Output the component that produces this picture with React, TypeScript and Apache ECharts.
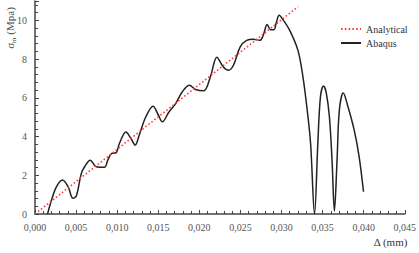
import React, { useEffect, useRef } from "react";
import * as echarts from "echarts";

const analyticalX = [0, 0.032];
const analyticalY = [0, 10.7];

const abaqusX = [
  0.00153, 0.00201, 0.00262, 0.00334, 0.00402, 0.00463, 0.00503, 0.00564, 0.00604, 0.00672,
  0.00745, 0.00845, 0.00886, 0.00934, 0.00986, 0.01027, 0.01107, 0.01168, 0.01220, 0.01268,
  0.01349, 0.01437, 0.01502, 0.01550, 0.01630, 0.01711, 0.01791, 0.01880, 0.01953, 0.02053,
  0.02134, 0.02214, 0.02290, 0.02355, 0.02415, 0.02496, 0.02576, 0.02657, 0.02738, 0.02778,
  0.02826, 0.02866, 0.02907, 0.02939, 0.02971, 0.03019, 0.03100, 0.03200, 0.03261, 0.03313,
  0.03354, 0.03402, 0.03442, 0.03474, 0.03511, 0.03543, 0.03583, 0.03615, 0.03644, 0.03676,
  0.03704, 0.03752, 0.03804, 0.03885, 0.03945, 0.03998,
];
const abaqusY = [
  0, 0.72, 1.41, 1.75, 1.41, 0.81, 0.93, 2.1, 2.44, 2.78,
  2.44, 2.41, 2.78, 3.13, 3.16, 3.64, 4.24, 3.9, 3.56, 4.07,
  5.02, 5.57, 5.1, 4.76, 5.27, 5.7, 6.3, 6.65, 6.43, 6.36,
  7.08, 8.1, 7.6, 7.42, 7.68, 8.62, 8.97, 9.02, 8.97, 9.23,
  9.79, 9.52, 9.52, 9.91, 10.26, 10.03, 9.48, 8.45, 7.08, 5.36,
  3.64, 0.0, 3.64, 6.05, 6.61, 6.3, 5.02, 2.78, 0.15, 2.78,
  5.36, 6.25, 5.62, 4.33, 2.95, 1.15,
];

const xTicks = { min: 0, max: 0.045, interval: 0.005 };
const yTicks = { min: 0, max: 11, interval: 2 };

const FONT = "Liberation Serif";

export default function App() {
  const ref = useRef<HTMLDivElement>(null);
  useEffect(() => {
    if (!ref.current) return;
    const chart = echarts.init(ref.current, null, { renderer: "svg" });
    const axisCommon = {
      axisLine: { show: true, onZero: false, lineStyle: { color: "#444", width: 1.5 } },
      axisTick: { show: true, inside: true, length: 4, lineStyle: { color: "#444", width: 1 } },
      minorTick: { show: true, splitNumber: 5, length: 3, lineStyle: { color: "#444", width: 1 } },
      splitLine: { show: false },
      minorSplitLine: { show: false },
    };
    chart.setOption({
      animation: false,
      grid: { left: 35, right: 12, top: 1, bottom: 39 },
      legend: {
        orient: "vertical",
        left: 335,
        top: 19,
        itemWidth: 20,
        itemHeight: 10,
        itemGap: 4,
        itemStyle: { opacity: 0 },
        textStyle: { fontFamily: FONT, fontSize: 10, color: "#333" },
        data: [{ name: "Analytical" }, { name: "Abaqus" }],
      },
      xAxis: {
        type: "value",
        ...xTicks,
        ...axisCommon,
        axisLabel: {
          fontFamily: FONT,
          fontSize: 10,
          color: "#555",
          margin: 8,
          formatter: (v: number) => v.toFixed(3).replace(".", ","),
        },
      },
      yAxis: {
        type: "value",
        ...yTicks,
        ...axisCommon,
        axisLabel: {
          fontFamily: FONT,
          fontSize: 10,
          color: "#555",
          margin: 8,
          formatter: (v: number) => (Math.round(v) % 2 === 0 ? String(v) : ""),
        },
      },
      graphic: [
        {
          type: "text",
          x: 10,
          y: 28,
          rotation: Math.PI / 2,
          style: {
            text: "{a|σ}{s|m}{a| (Mpa)}",
            fill: "#444",
            align: "center",
            verticalAlign: "middle",
            rich: {
              a: { fontFamily: FONT, fontSize: 11, fill: "#444", lineHeight: 14 },
              s: { fontFamily: FONT, fontSize: 7, fill: "#444", verticalAlign: "bottom", lineHeight: 14 },
            },
          },
        },
        {
          type: "text",
          right: 11,
          top: 236,
          style: { text: "Δ (mm)", fontFamily: FONT, fontSize: 11, fill: "#333" },
        },
      ],
      series: [
        {
          name: "Analytical",
          type: "line",
          symbol: "none",
          data: analyticalX.map((x, i) => [x, analyticalY[i]]),
          lineStyle: { color: "#ff3b3b", width: 1.6, type: [1.6, 2.2] },
          itemStyle: { color: "#ff3b3b" },
          z: 3,
        },
        {
          name: "Abaqus",
          type: "line",
          symbol: "none",
          smooth: 0.35,
          data: abaqusX.map((x, i) => [x, abaqusY[i]]),
          lineStyle: { color: "#222", width: 1.5 },
          itemStyle: { color: "#222" },
          z: 2,
        },
      ],
    });
    return () => chart.dispose();
  }, []);
  return <div ref={ref} style={{ width: 419, height: 253, position: "absolute", left: 0, top: 0 }} />;
}
